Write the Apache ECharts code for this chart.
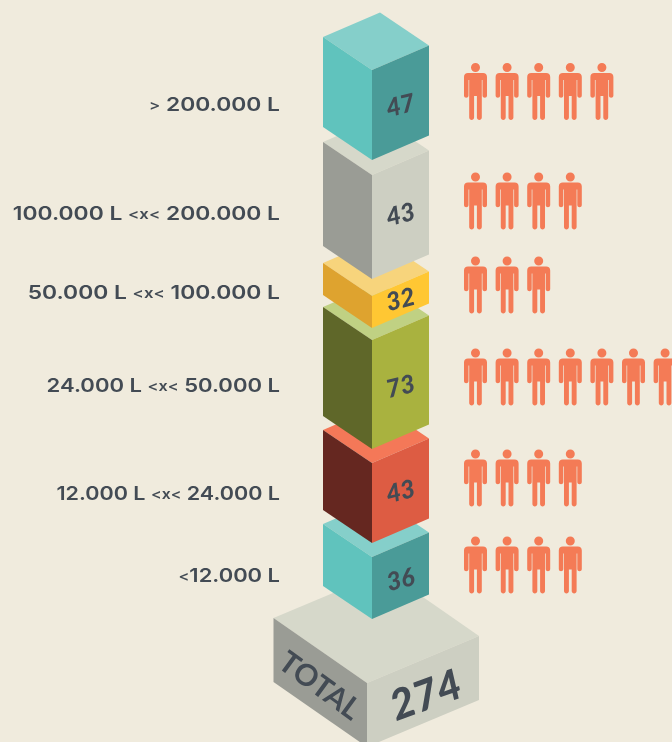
<!DOCTYPE html>
<html>
<head>
    <meta charset="utf-8">
    <title>ECharts</title>
    <script src="https://cdn.jsdelivr.net/npm/echarts@6/dist/echarts.min.js"></script>
    <style>
        html, body { margin: 0; padding: 0; background: #f0ebdd; }
    </style>
</head>
<body>
    <div id="main" style="width: 672px; height: 742px;"></div>

    <script type="text/javascript">
        // data, top block first
        var categories = ['> 200.000 L', '100.000 L <x< 200.000 L', '50.000 L <x< 100.000 L',
            '24.000 L <x< 50.000 L', '12.000 L <x< 24.000 L', '<12.000 L'];
        var blockValues = [47, 43, 32, 73, 43, 36];
        var blockHeights = [90, 104, 32, 109, 80, 62];  // drawn height is not proportional to the value
        var peopleCounts = [5, 4, 3, 7, 4, 4];
        var totalName = 'TOTAL';
        var totalValue = 274;
        var totalHeight = 64;

        // layout, in axis units (the hidden axes run 1:1 over the canvas)
        var firstFrontTop = 70;
        var gapsBelow = [15, 17, 12, 14, 14, 64];
        var labelRows = [105.5, 214.5, 293.5, 386.5, 494.5, 576.5];
        var labelStretch = [1.2, 1.2, 1.2, 1.16, 1.134, 1.154];  // no wide geometric face installed, so stretch Inter
        var numberRows = [106, 215, 300, 387, 492, 580];
        var peopleRows = [91.5, 201, 285, 377, 478, 565];
        var peopleStartX = 475.5, peopleStepX = 31.6;
        var labelRightX = 280;

        var towerFoot = { x: 372, lx: 49, ly: 33, rx: 57, ry: 24.5 };
        var totalFoot = { x: 367, lx: 93.5, ly: 65, rx: 112, ry: 47 };

        var palette = [
            { top: '#85cfca', left: '#60c3bd', right: '#4a9b98' },
            { top: '#d6d8ca', left: '#9a9c95', right: '#cdcfc2' },
            { top: '#f7d47c', left: '#dea32f', right: '#ffc733' },
            { top: '#c0d183', left: '#5f6729', right: '#a9b23f' },
            { top: '#f47858', left: '#652720', right: '#dd5c43' },
            { top: '#85cfca', left: '#60c3bd', right: '#4a9b98' }
        ];
        var totalColors = { top: '#d6d8ca', left: '#9a9c95', right: '#cdcfc2' };
        var textColor = '#434b54';
        var numberFont = 'Lato';
        var labelFont = 'Inter';

        var personPath = 'path://M7 4.5 A4.5 4.5 0 1 1 16 4.5 A4.5 4.5 0 1 1 7 4.5 Z ' +
            'M4 10 H19 C21.5 10 23 11.5 23 14 V32.5 C23 35.5 18.5 35.5 18.5 32.5 V17 H17.8 V54.5 ' +
            'C17.8 57.8 12.9 57.8 12.9 54.5 V33 H10.1 V54.5 C10.1 57.8 5.2 57.8 5.2 54.5 V17 H4.5 ' +
            'V32.5 C4.5 35.5 0 35.5 0 32.5 V14 C0 11.5 1.5 10 4 10 Z';

        // build the block rows, bottom one first so upper blocks paint over it
        var blocks = [];
        var frontTop = firstFrontTop;
        var i, j;
        for (i = 0; i < blockValues.length; i++) {
            blocks.unshift({
                value: [frontTop, blockHeights[i]],
                colors: palette[i],
                foot: towerFoot,
                number: blockValues[i],
                numberY: numberRows[i]
            });
            frontTop += blockHeights[i] + gapsBelow[i];
        }
        blocks.unshift({
            value: [frontTop, totalHeight],
            colors: totalColors,
            foot: totalFoot,
            number: totalValue,
            numberY: frontTop + 13,
            name: totalName
        });

        var people = [];
        for (i = 0; i < peopleCounts.length; i++) {
            for (j = 0; j < peopleCounts[i]; j++) {
                people.push([peopleStartX + peopleStepX * j, peopleRows[i]]);
            }
        }

        var labels = categories.map(function (c, k) {
            return { value: [labelRightX, labelRows[k]], text: c };
        });

        function face(api, pts, color) {
            return {
                type: 'polygon',
                shape: { points: pts.map(function (p) { return api.coord(p); }) },
                style: { fill: color }
            };
        }

        function renderBlock(params, api) {
            var item = blocks[params.dataIndex];
            var f = item.foot, c = item.colors;
            var top = api.value(0), h = api.value(1);
            var lx = f.x - f.lx, rx = f.x + f.rx;
            var children = [
                face(api, [[lx, top - f.ly], [lx + f.rx, top - f.ly - f.ry], [rx, top - f.ry], [f.x, top]], c.top),
                face(api, [[lx, top - f.ly], [f.x, top], [f.x, top + h], [lx, top + h - f.ly]], c.left),
                face(api, [[f.x, top], [rx, top - f.ry], [rx, top + h - f.ry], [f.x, top + h]], c.right)
            ];
            var isTotal = !!item.name;
            var numPos = api.coord([f.x + f.rx / 2 + (isTotal ? 3 : 0), item.numberY]);
            children.push({
                type: 'text',
                x: numPos[0],
                y: numPos[1],
                rotation: (isTotal ? 20 : 14) * Math.PI / 180,
                style: {
                    text: String(item.number),
                    fill: textColor,
                    fontFamily: numberFont,
                    fontWeight: 900,
                    fontStyle: 'italic',
                    fontSize: isTotal ? 42 : 25,
                    align: 'center',
                    verticalAlign: 'middle'
                }
            });
            if (isTotal) {
                var namePos = api.coord([319.5, top + 3]);
                children.push({
                    type: 'text',
                    x: namePos[0],
                    y: namePos[1],
                    rotation: -36 * Math.PI / 180,
                    style: {
                        text: item.name,
                        fill: textColor,
                        fontFamily: numberFont,
                        fontWeight: 700,
                        fontSize: 30,
                        align: 'center',
                        verticalAlign: 'middle'
                    }
                });
            }
            return { type: 'group', children: children };
        }

        function renderLabel(params, api) {
            var pos = api.coord([api.value(0), api.value(1)]);
            // the <x< signs are set smaller than the numbers
            var rich = labels[params.dataIndex].text.split(/([<>]x?<?)/).map(function (part) {
                if (!part) return '';
                return /[<>]/.test(part) ? '{s|' + part + '}' : '{m|' + part + '}';
            }).join('');
            return {
                type: 'text',
                x: pos[0],
                y: pos[1],
                scaleX: labelStretch[params.dataIndex],
                style: {
                    text: rich,
                    align: 'right',
                    verticalAlign: 'middle',
                    rich: {
                        m: { fontFamily: labelFont, fontWeight: 600, fontSize: 19, fill: textColor },
                        s: { fontFamily: labelFont, fontWeight: 600, fontSize: 14, fill: textColor }
                    }
                }
            };
        }

        var myChart = echarts.init(document.getElementById('main'));

        var option = {
            animation: false,
            backgroundColor: '#f0ebdd',
            grid: { left: 0, right: 0, top: 0, bottom: 0 },
            xAxis: { type: 'value', min: 0, max: 672, show: false },
            yAxis: { type: 'value', min: 0, max: 742, inverse: true, show: false },
            series: [
                {
                    name: 'blocks',
                    type: 'custom',
                    clip: false,
                    renderItem: renderBlock,
                    data: blocks.map(function (b) { return b.value; })
                },
                {
                    name: 'labels',
                    type: 'custom',
                    renderItem: renderLabel,
                    data: labels.map(function (l) { return l.value; })
                },
                {
                    name: 'people',
                    type: 'scatter',
                    symbol: personPath,
                    symbolSize: [23, 57],
                    itemStyle: { color: '#f47b56', opacity: 1 },
                    data: people
                }
            ]
        };

        myChart.setOption(option);
    </script>
</body>
</html>
